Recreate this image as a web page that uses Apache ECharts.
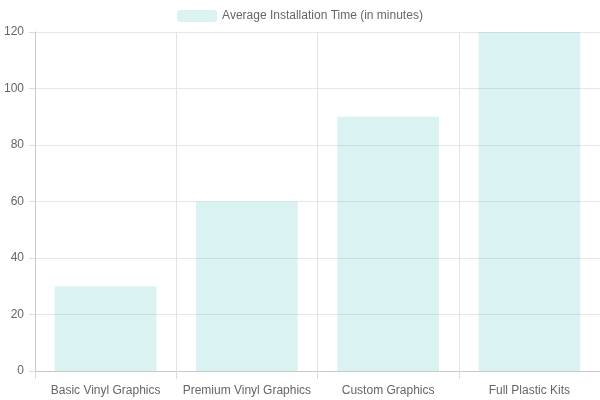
<!DOCTYPE html>
<html>
<head>
<meta charset="utf-8">
<script src="https://cdn.jsdelivr.net/npm/echarts@6/dist/echarts.min.js"></script>
<style>html,body{margin:0;padding:0;background:#fff}#c{width:600px;height:400px}</style>
</head>
<body>
<div id="c"></div>
<script>
const categories = ['Basic Vinyl Graphics', 'Premium Vinyl Graphics', 'Custom Graphics', 'Full Plastic Kits'];
const seriesName = 'Average Installation Time (in minutes)';
const values = [30, 60, 90, 120];

const chart = echarts.init(document.getElementById('c'), null, {renderer: 'canvas'});
const font = '"Liberation Sans", Arial, Helvetica, sans-serif';
chart.setOption({
  animation: false,
  textStyle: {fontFamily: font},
  legend: {
    top: 10, left: 'center', padding: 0,
    itemWidth: 40, itemHeight: 12, itemGap: 10,
    textStyle: {color: '#666', fontSize: 12, fontFamily: font},
    data: [{name: seriesName, icon: 'roundRect', itemStyle: {color: 'rgba(75,192,192,0.2)'}}]
  },
  grid: {left: 35, right: 0, top: 32, bottom: 29, containLabel: false},
  xAxis: {
    type: 'category', data: categories, boundaryGap: true,
    axisLine: {show: true, lineStyle: {color: '#c8c8c8'}},
    axisTick: {show: true, length: 8, interval: 0, lineStyle: {color: '#dcdcdc'}},
    axisLabel: {color: '#666', fontSize: 12, fontFamily: font, margin: 14, interval: 0},
    splitLine: {show: true, interval: 0, lineStyle: {color: '#e2e2e2'}}
  },
  yAxis: {
    type: 'value', min: 0, max: 120, interval: 20,
    axisLine: {show: true, lineStyle: {color: '#c8c8c8'}},
    axisTick: {show: true, length: 6, lineStyle: {color: '#dcdcdc'}},
    axisLabel: {color: '#666', fontSize: 12, fontFamily: font, margin: 11},
    splitLine: {show: true, lineStyle: {color: '#e6e6e6'}}
  },
  series: [{
    name: seriesName, type: 'bar', data: values, barWidth: '72%',
    itemStyle: {color: 'rgba(75,192,192,0.2)'}
  }]
});
</script>
</body>
</html>
